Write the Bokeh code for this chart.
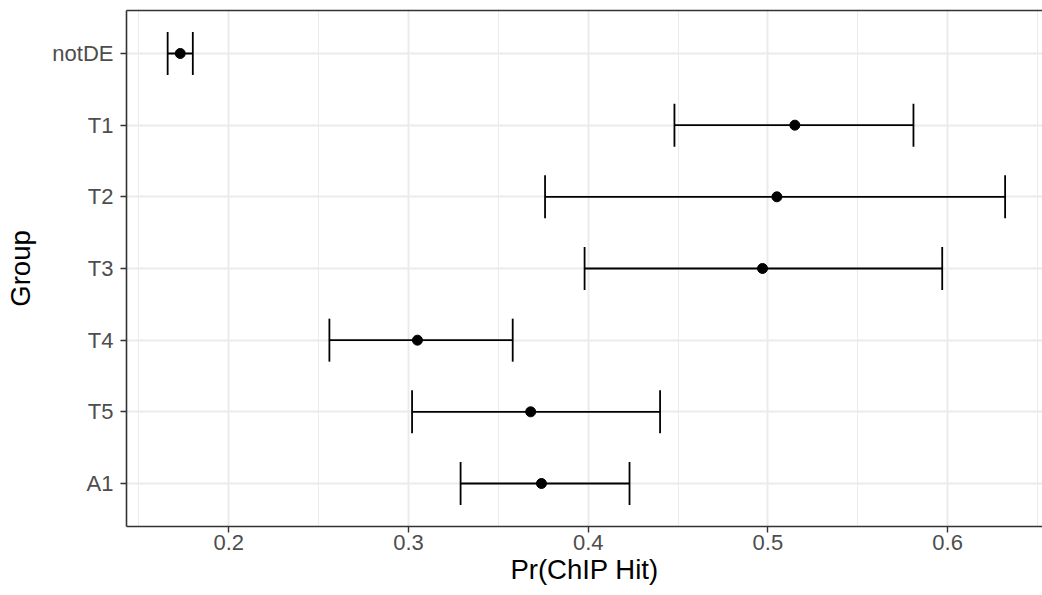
from bokeh.plotting import figure
from bokeh.models import FactorRange, FixedTicker, Range1d, ColumnDataSource, LinearAxis
from bokeh.embed import file_html
from bokeh.resources import INLINE

# ---- data ----
groups = ["notDE", "T1", "T2", "T3", "T4", "T5", "A1"]
estimate = [0.173, 0.515, 0.505, 0.497, 0.305, 0.368, 0.374]
lower = [0.166, 0.448, 0.376, 0.398, 0.256, 0.302, 0.329]
upper = [0.180, 0.581, 0.632, 0.597, 0.358, 0.440, 0.423]
x_ticks = [0.2, 0.3, 0.4, 0.5, 0.6]
x_minor = [0.15, 0.25, 0.35, 0.45, 0.55, 0.65]
x_title = "Pr(ChIP Hit)"
y_title = "Group"

FONT = "Liberation Sans"
BORDER = "#333333"
CAP = 0.3  # half height of the error-bar caps in category units

src = ColumnDataSource(dict(
    g=groups, est=estimate, lo=lower, hi=upper,
    cap_lo=[(g, -CAP) for g in groups],
    cap_hi=[(g, CAP) for g in groups],
))

# each end extended by 0.1 -> 0.6 category units between outer rows and frame
y_range = FactorRange(factors=list(reversed(groups)),
                      range_padding=0.1, range_padding_units="absolute")

p = figure(width=1042, height=595, y_range=y_range,
           x_range=Range1d(0.1431, 0.6528),
           output_backend="svg", toolbar_location=None,
           min_border_left=126, min_border_right=0,
           min_border_top=10, min_border_bottom=69)

# main whisker line
p.segment(x0="lo", y0="g", x1="hi", y1="g", source=src,
          line_color="black", line_width=1.8)
# caps
p.segment(x0="lo", y0="cap_lo", x1="lo", y1="cap_hi", source=src,
          line_color="black", line_width=1.8)
p.segment(x0="hi", y0="cap_lo", x1="hi", y1="cap_hi", source=src,
          line_color="black", line_width=1.8)
# points
p.scatter(x="est", y="g", source=src, size=10, color="black")

# frame / grid (panel continues past the right edge, so no right border)
p.background_fill_color = "white"
p.border_fill_color = "white"
p.outline_line_color = None

xax = p.below[0]
yax = p.left[0]

xax.ticker = FixedTicker(ticks=x_ticks, minor_ticks=x_minor)
p.xgrid.grid_line_color = "#EBEBEB"
p.xgrid.grid_line_width = 2
p.xgrid.minor_grid_line_color = "#EBEBEB"
p.xgrid.minor_grid_line_width = 1
p.ygrid.grid_line_color = "#EBEBEB"
p.ygrid.grid_line_width = 2

for ax in (xax, yax):
    ax.axis_line_color = BORDER
    ax.axis_line_width = 1.6
    ax.major_tick_line_color = BORDER
    ax.major_tick_line_width = 1.4
    ax.major_tick_out = 6
    ax.major_tick_in = 0
    ax.minor_tick_line_color = None
    ax.major_label_text_font = FONT
    ax.major_label_text_font_size = "22px"
    ax.major_label_text_color = "#4D4D4D"
    ax.axis_label_text_font = FONT
    ax.axis_label_text_font_size = "27.5px"
    ax.axis_label_text_font_style = "normal"
    ax.axis_label_text_color = "black"

xax.axis_label = x_title
yax.axis_label = y_title
xax.major_label_standoff = 2
xax.axis_label_standoff = 1
yax.major_label_standoff = 7
yax.axis_label_standoff = 13

# top border line of the panel (an axis with no ticks or labels)
top = LinearAxis(ticker=FixedTicker(ticks=[]), axis_line_color=BORDER,
                 axis_line_width=1.6, major_tick_line_color=None,
                 minor_tick_line_color=None, major_tick_out=0, major_tick_in=0,
                 major_label_standoff=0, axis_label_standoff=0,
                 major_label_text_font_size="0px")
p.add_layout(top, "above")

open("out.html", "w").write(file_html(p, INLINE))
